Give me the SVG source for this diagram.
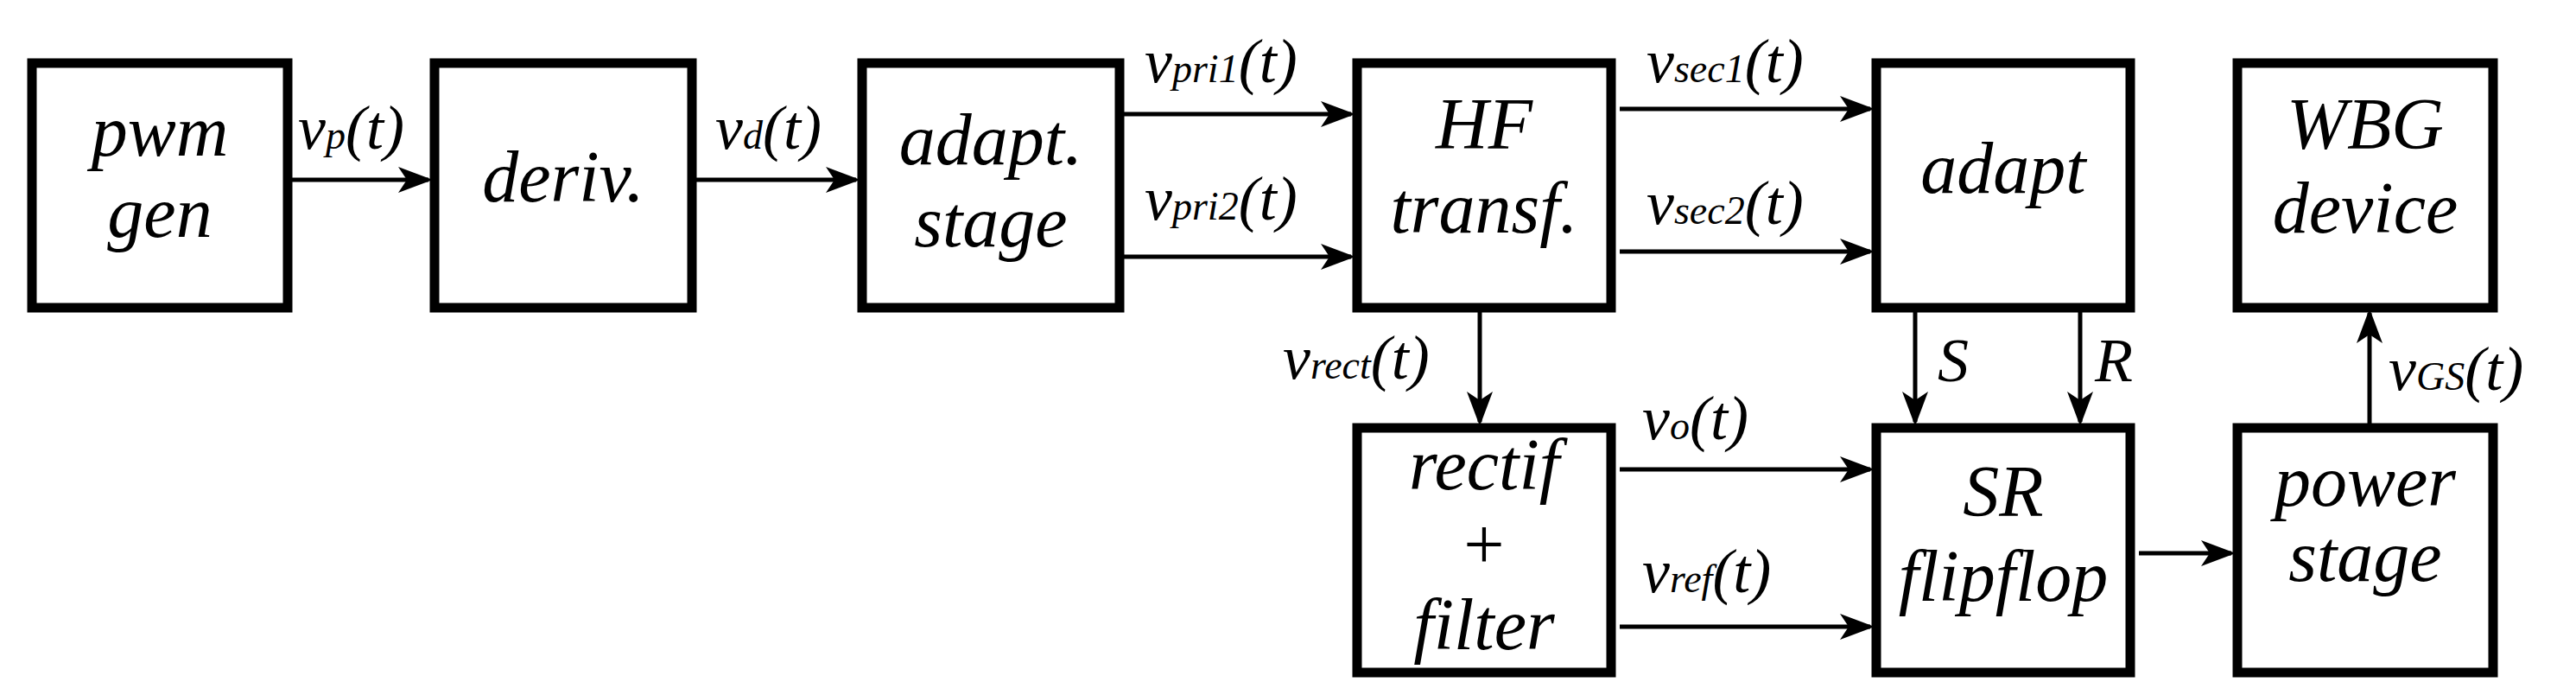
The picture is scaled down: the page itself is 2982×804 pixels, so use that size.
<svg xmlns="http://www.w3.org/2000/svg" width="2982" height="804" viewBox="0 0 2982 804">
<style>
.b{fill:#fff;stroke:#000;stroke-width:11}
.t{font-family:"Liberation Serif","DejaVu Serif",serif;font-style:italic;font-size:84px;text-anchor:middle}
.l{font-family:"Liberation Serif","DejaVu Serif",serif;font-style:italic;font-size:72px}
.s{font-size:46px}
.c line{stroke:#000;stroke-width:5;marker-end:url(#a)}
</style>
<defs><marker id="a" markerWidth="8" markerHeight="6" refX="7" refY="3" orient="auto" markerUnits="strokeWidth"><path d="M0,0L8,3L0,6L2,3z"/></marker></defs>
<rect width="2982" height="804" fill="#fff"/>
<g class="c">
<line x1="337" y1="208" x2="496" y2="208"/>
<line x1="803" y1="208" x2="991" y2="208"/>
<line x1="1298" y1="132" x2="1564" y2="132"/>
<line x1="1298" y1="297" x2="1564" y2="297"/>
<line x1="1875" y1="126" x2="2165" y2="126"/>
<line x1="1875" y1="291" x2="2165" y2="291"/>
<line x1="1713" y1="360" x2="1713" y2="488"/>
<line x1="2217" y1="360" x2="2217" y2="488"/>
<line x1="2408" y1="360" x2="2408" y2="488"/>
<line x1="2743" y1="490" x2="2743" y2="362"/>
<line x1="1875" y1="543" x2="2165" y2="543"/>
<line x1="1875" y1="725" x2="2165" y2="725"/>
<line x1="2476" y1="640" x2="2583" y2="640"/>
</g>
<g id="pwm"><rect class="b" x="37" y="73" width="296" height="283"/><text class="t" x="185" y="180">pwm</text><text class="t" x="185" y="274">gen</text></g>
<g id="deriv"><rect class="b" x="503" y="73" width="298" height="283"/><text class="t" x="652" y="233">deriv.</text></g>
<g id="adapt1"><rect class="b" x="998" y="73" width="298" height="283"/><text class="t" x="1147" y="190">adapt.</text><text class="t" x="1147" y="285">stage</text></g>
<g id="hf"><rect class="b" x="1571" y="73" width="294" height="283"/><text class="t" x="1718" y="172">HF</text><text class="t" x="1718" y="269">transf.</text></g>
<g id="adapt2"><rect class="b" x="2172" y="73" width="294" height="283"/><text class="t" x="2319" y="223">adapt</text></g>
<g id="wbg"><rect class="b" x="2590" y="73" width="296" height="283"/><text class="t" x="2738" y="172">WBG</text><text class="t" x="2738" y="269">device</text></g>
<g id="rectif"><rect class="b" x="1571" y="495" width="294" height="283"/><text class="t" x="1718" y="566">rectif</text><text class="t" x="1718" y="658" style="font-style:normal">+</text><text class="t" x="1718" y="751">filter</text></g>
<g id="sr"><rect class="b" x="2172" y="495" width="294" height="283"/><text class="t" x="2319" y="597">SR</text><text class="t" x="2319" y="695">flipflop</text></g>
<g id="power"><rect class="b" x="2590" y="495" width="296" height="283"/><text class="t" x="2738" y="585">power</text><text class="t" x="2738" y="672">stage</text></g>
<g id="labels">
<text class="l" x="345" y="172">v<tspan class="s">p</tspan>(t)</text>
<text class="l" x="828" y="172">v<tspan class="s">d</tspan>(t)</text>
<text class="l" x="1325" y="95">v<tspan class="s">pri1</tspan>(t)</text>
<text class="l" x="1325" y="254">v<tspan class="s">pri2</tspan>(t)</text>
<text class="l" x="1906" y="95">v<tspan class="s">sec1</tspan>(t)</text>
<text class="l" x="1906" y="259">v<tspan class="s">sec2</tspan>(t)</text>
<text class="l" x="1485" y="438">v<tspan class="s">rect</tspan>(t)</text>
<text class="l" x="2243" y="441">S</text>
<text class="l" x="2425" y="441">R</text>
<text class="l" x="2765" y="451">v<tspan class="s">GS</tspan>(t)</text>
<text class="l" x="1901" y="508">v<tspan class="s">o</tspan>(t)</text>
<text class="l" x="1901" y="685">v<tspan class="s">ref</tspan>(t)</text>
</g>
</svg>
